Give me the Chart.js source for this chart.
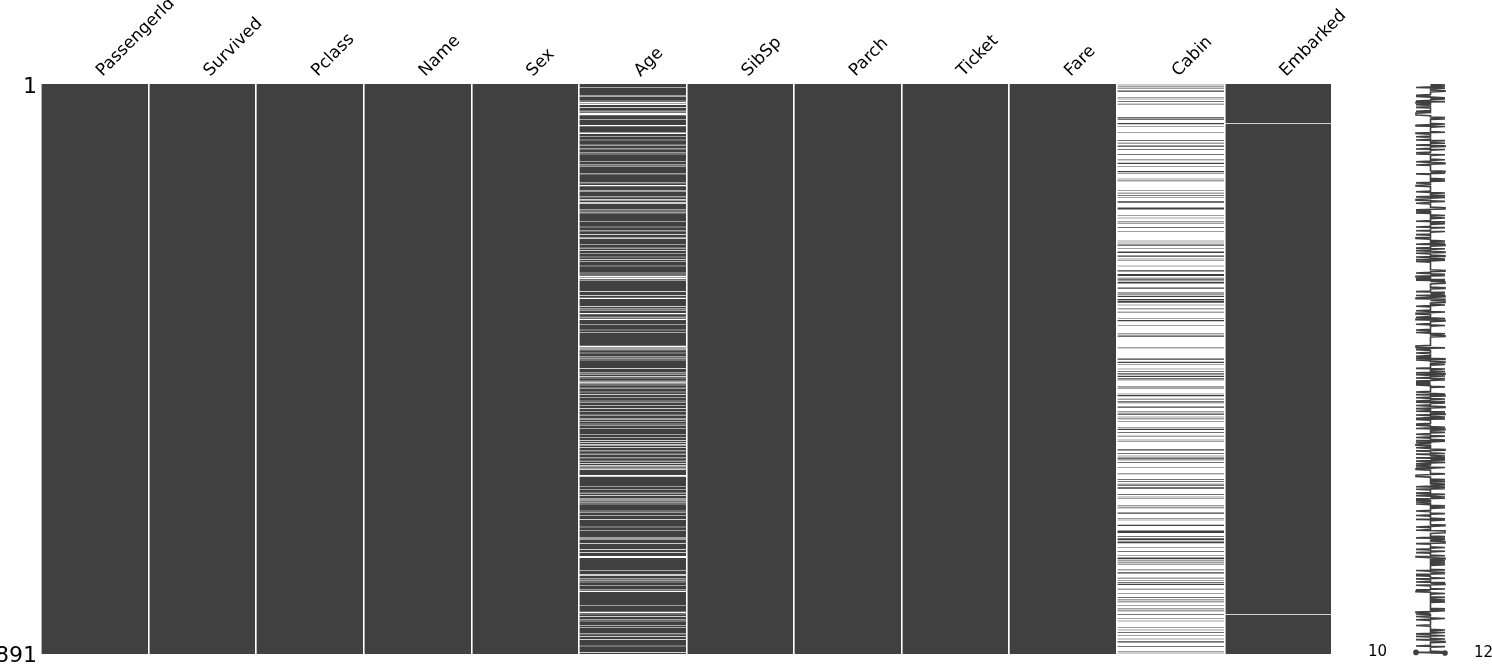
<!DOCTYPE html>
<html>
<head>
<meta charset="utf-8">
<script src="https://cdn.jsdelivr.net/npm/chart.js@4.4.1/dist/chart.umd.min.js"></script>
<style>
  html, body { margin: 0; padding: 0; background: #fff; }
  #wrap { position: relative; width: 1492px; height: 666px; overflow: hidden; }
  #matrix { position: absolute; left: 0; top: 0; }
  #spark { position: absolute; left: 1360px; top: 0; }
</style>
</head>
<body>
<div id="wrap">
  <canvas id="matrix" width="1492" height="666"></canvas>
  <canvas id="spark" width="132" height="666"></canvas>
</div>
<script>
// Titanic train set, missing-value matrix (rows are 1-based passenger rows)
const columns = ['PassengerId', 'Survived', 'Pclass', 'Name', 'Sex', 'Age',
  'SibSp', 'Parch', 'Ticket', 'Fare', 'Cabin', 'Embarked'];
const rowCount = 891;

const ageMissingRows = [6, 18, 20, 27, 29, 30, 32, 33, 37, 43, 46, 47, 48, 49, 56, 65, 66, 77, 78, 83,
  88, 96, 102, 108, 110, 122, 127, 129, 141, 155, 159, 160, 167, 169, 177, 181, 182, 186, 187, 197,
  199, 202, 215, 224, 230, 236, 241, 242, 251, 257, 261, 265, 271, 275, 278, 285, 296, 299, 301, 302,
  304, 305, 307, 325, 331, 335, 336, 348, 352, 355, 359, 360, 365, 368, 369, 376, 385, 389, 410, 411,
  412, 414, 416, 421, 426, 429, 432, 445, 452, 455, 458, 460, 465, 467, 469, 471, 476, 482, 486, 491,
  496, 498, 503, 508, 512, 518, 523, 525, 528, 532, 534, 539, 548, 553, 558, 561, 564, 565, 569, 574,
  579, 585, 590, 594, 597, 599, 602, 603, 612, 613, 614, 630, 634, 640, 644, 649, 651, 654, 657, 668,
  670, 675, 681, 693, 698, 710, 712, 719, 728, 733, 739, 740, 741, 761, 767, 769, 774, 777, 779, 784,
  791, 793, 794, 816, 826, 827, 829, 833, 838, 840, 847, 850, 860, 864, 869, 879, 889];

// rows where Cabin is filled in (all other rows are missing)
const cabinPresentRows = [2, 4, 7, 11, 12, 22, 24, 28, 32, 53, 55, 56, 62, 63, 67, 76, 89, 93, 97, 98,
  103, 111, 119, 124, 125, 129, 137, 138, 140, 149, 152, 167, 171, 175, 178, 184, 186, 194, 195, 196,
  206, 210, 216, 219, 225, 231, 246, 249, 252, 253, 258, 263, 264, 269, 270, 274, 276, 285, 292, 293,
  298, 299, 300, 304, 306, 308, 310, 311, 312, 319, 320, 326, 328, 330, 332, 333, 337, 338, 340, 341,
  342, 346, 352, 357, 367, 370, 371, 378, 391, 394, 395, 413, 430, 431, 435, 436, 439, 446, 450, 453,
  454, 457, 458, 461, 463, 474, 476, 485, 487, 488, 493, 497, 499, 505, 506, 513, 516, 517, 521, 524,
  528, 537, 540, 541, 545, 551, 557, 559, 572, 573, 578, 582, 584, 586, 588, 592, 600, 610, 619, 622,
  626, 628, 631, 633, 642, 646, 648, 660, 663, 670, 672, 680, 682, 690, 691, 699, 700, 701, 702, 708,
  711, 712, 713, 716, 717, 718, 725, 731, 738, 741, 742, 743, 746, 749, 752, 760, 764, 766, 773, 777,
  780, 782, 783, 790, 797, 803, 807, 810, 816, 821, 824, 830, 836, 840, 850, 854, 858, 863, 868, 872,
  873, 880, 888, 890];

const embarkedMissingRows = [62, 830];

const yTickRows = [1, rowCount];

// ---- derived tables ----
const cabinSet = new Set(cabinPresentRows);
const cabinMissingRows = [];
for (let r = 1; r <= rowCount; r++) if (!cabinSet.has(r)) cabinMissingRows.push(r);

const missingByColumn = {};
columns.forEach(c => missingByColumn[c] = []);
missingByColumn['Age'] = ageMissingRows;
missingByColumn['Cabin'] = cabinMissingRows;
missingByColumn['Embarked'] = embarkedMissingRows;

// runs of filled rows -> floating bars [start, end]
function presentRuns(missing) {
  const miss = new Set(missing);
  const runs = [];
  let start = null;
  for (let r = 1; r <= rowCount; r++) {
    if (!miss.has(r)) {
      if (start === null) start = r;
    } else if (start !== null) {
      runs.push([start - 0.5, r - 0.5]);
      start = null;
    }
  }
  if (start !== null) runs.push([start - 0.5, rowCount + 0.5]);
  return runs;
}

const runsByColumn = columns.map(c => presentRuns(missingByColumn[c]));
const maxRuns = Math.max(...runsByColumn.map(r => r.length));

const MATRIX_COLOR = '#404040';
Chart.defaults.font.family = '"DejaVu Sans", sans-serif';
Chart.defaults.color = '#000';

const barSets = [];
for (let k = 0; k < maxRuns; k++) {
  barSets.push({
    data: runsByColumn.map(r => r[k] || null),
    backgroundColor: MATRIX_COLOR,
    borderWidth: 0,
    inflateAmount: 0,
    barPercentage: 1,
    categoryPercentage: 1,
    grouped: false
  });
}

new Chart(document.getElementById('matrix'), {
  type: 'bar',
  data: { labels: columns, datasets: barSets },
  options: {
    responsive: false,
    animation: false,
    layout: { padding: { left: 0, right: 160, top: 0, bottom: 12 } },
    plugins: { legend: { display: false }, tooltip: { enabled: false } },
    scales: {
      x: {
        position: 'top',
        offset: true,
        grid: { color: '#ffffff', lineWidth: 1.6, offset: true, drawTicks: false, z: 1 },
        border: { display: false },
        ticks: {
          font: { size: 17 },
          color: '#000',
          minRotation: 45,
          maxRotation: 45,
          autoSkip: false,
          padding: 3,
          labelOffset: 19
        },
        afterFit: (scale) => {
          scale.height = 84;
          scale.paddingLeft = 0;
          scale.paddingRight = 0;
        }
      },
      y: {
        type: 'linear',
        reverse: true,
        min: 0.5,
        max: rowCount + 0.5,
        grid: { display: false, drawTicks: false },
        border: { display: false },
        ticks: { font: { size: 22 }, color: '#000', padding: 4, labelOffset: 3 },
        afterBuildTicks: (scale) => {
          scale.ticks = yTickRows.map(v => ({ value: v }));
        },
        afterFit: (scale) => {
          scale.width = 41;
          scale.paddingTop = 0;
          scale.paddingBottom = 0;
        }
      }
    }
  }
});

// ---- sparkline: filled fields per row ----
const completeness = [];
for (let r = 1; r <= rowCount; r++) {
  let n = columns.length;
  columns.forEach(c => { if (missingByColumn[c].includes(r)) n--; });
  completeness.push(n);
}
const minC = Math.min(...completeness);
const maxC = Math.max(...completeness);
const minRow = completeness.lastIndexOf(minC) + 1;
const maxRow = completeness.lastIndexOf(maxC) + 1;

const sparkLabels = {
  id: 'sparkLabels',
  afterDatasetsDraw(chart) {
    const { ctx, scales } = chart;
    ctx.save();
    ctx.font = '15px "DejaVu Sans", sans-serif';
    ctx.fillStyle = '#000';
    ctx.textBaseline = 'middle';
    ctx.textAlign = 'right';
    ctx.fillText(String(minC), scales.x.getPixelForValue(minC - 2), scales.y.getPixelForValue(minRow));
    ctx.textAlign = 'left';
    ctx.fillText(String(maxC), scales.x.getPixelForValue(maxC + 2), scales.y.getPixelForValue(maxRow));
    ctx.restore();
  }
};

new Chart(document.getElementById('spark'), {
  type: 'scatter',
  data: {
    datasets: [{
      data: completeness.map((v, i) => ({ x: v, y: i + 1 })),
      showLine: true,
      borderColor: MATRIX_COLOR,
      borderWidth: 1.6,
      pointRadius: 0,
      tension: 0
    }, {
      data: [{ x: minC, y: minRow }, { x: maxC, y: maxRow }],
      pointRadius: 2.8,
      pointBackgroundColor: MATRIX_COLOR,
      pointBorderWidth: 0,
      clip: false
    }]
  },
  options: {
    responsive: false,
    animation: false,
    layout: { padding: { left: 27, right: 18, top: 84, bottom: 12 } },
    plugins: { legend: { display: false }, tooltip: { enabled: false } },
    scales: {
      x: { display: false, min: minC - 2, max: maxC + 2 },
      y: { display: false, reverse: true, min: 0.5, max: rowCount + 0.5 }
    }
  },
  plugins: [sparkLabels]
});
</script>
</body>
</html>
